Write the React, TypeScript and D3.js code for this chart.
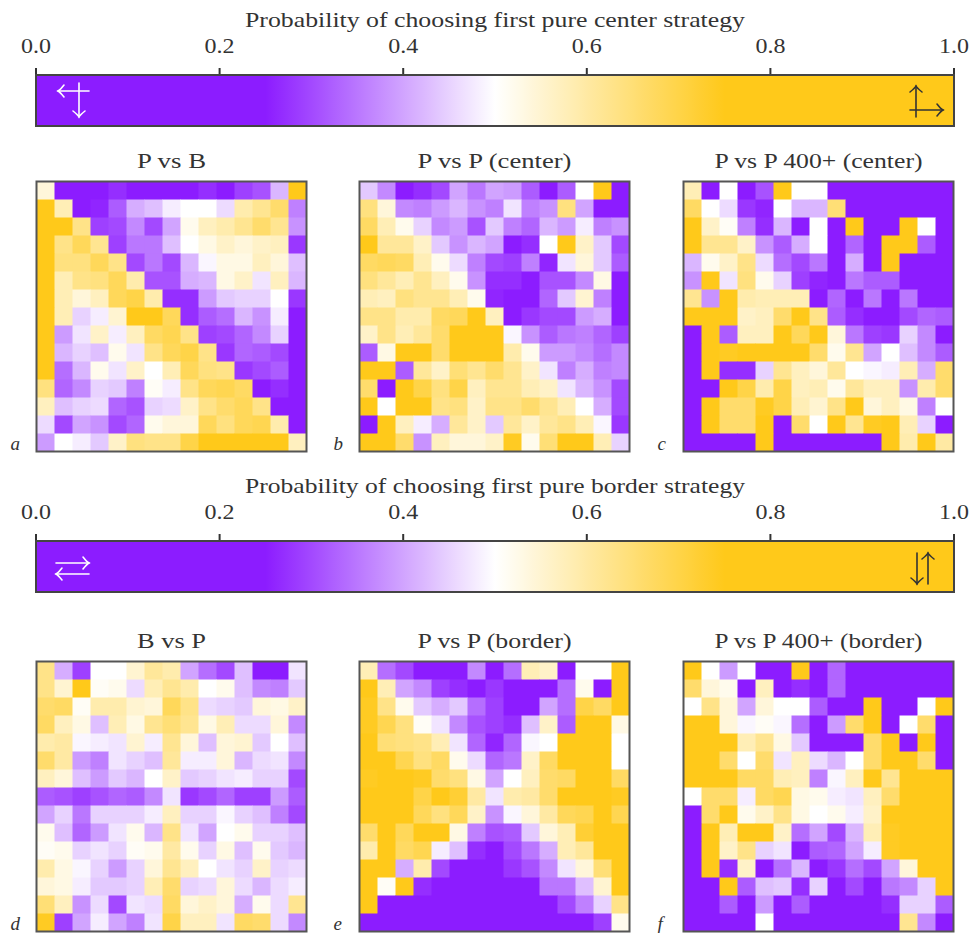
import React from "react";
import * as d3 from "d3";

// Probabilities of the first pure strategy, 15x15 grids (row 0 = top)
const pVsB = [
  [0.54, 0.15, 0.15, 0.15, 0.27, 0.15, 0.15, 0.15, 0.15, 0.27, 0.15, 0.29, 0.31, 0.42, 0.85],
  [0.85, 0.58, 0.15, 0.26, 0.32, 0.41, 0.43, 0.48, 0.5, 0.5, 0.46, 0.59, 0.62, 0.66, 0.36],
  [0.85, 0.85, 0.63, 0.29, 0.3, 0.37, 0.3, 0.4, 0.52, 0.57, 0.59, 0.62, 0.66, 0.62, 0.38],
  [0.85, 0.63, 0.68, 0.62, 0.29, 0.35, 0.35, 0.43, 0.5, 0.53, 0.56, 0.54, 0.56, 0.57, 0.28],
  [0.85, 0.64, 0.64, 0.68, 0.63, 0.3, 0.35, 0.3, 0.42, 0.49, 0.53, 0.53, 0.57, 0.54, 0.43],
  [0.85, 0.58, 0.63, 0.64, 0.68, 0.59, 0.31, 0.31, 0.41, 0.42, 0.53, 0.56, 0.47, 0.57, 0.42],
  [0.75, 0.58, 0.54, 0.57, 0.68, 0.7, 0.59, 0.27, 0.27, 0.39, 0.44, 0.45, 0.45, 0.5, 0.28],
  [0.85, 0.58, 0.45, 0.48, 0.55, 0.76, 0.78, 0.68, 0.27, 0.32, 0.34, 0.42, 0.38, 0.48, 0.25],
  [0.85, 0.39, 0.47, 0.56, 0.48, 0.57, 0.67, 0.69, 0.63, 0.29, 0.3, 0.33, 0.37, 0.45, 0.15],
  [0.85, 0.42, 0.45, 0.43, 0.52, 0.47, 0.63, 0.68, 0.7, 0.63, 0.28, 0.33, 0.32, 0.3, 0.15],
  [0.85, 0.34, 0.42, 0.52, 0.47, 0.56, 0.5, 0.58, 0.68, 0.64, 0.63, 0.28, 0.3, 0.32, 0.15],
  [0.64, 0.33, 0.37, 0.45, 0.44, 0.36, 0.51, 0.48, 0.63, 0.68, 0.69, 0.67, 0.25, 0.27, 0.15],
  [0.57, 0.43, 0.45, 0.46, 0.33, 0.31, 0.45, 0.46, 0.56, 0.63, 0.66, 0.68, 0.63, 0.15, 0.15],
  [0.46, 0.3, 0.4, 0.38, 0.3, 0.33, 0.52, 0.54, 0.54, 0.68, 0.64, 0.68, 0.69, 0.59, 0.15],
  [0.39, 0.5, 0.48, 0.44, 0.56, 0.64, 0.63, 0.63, 0.7, 0.76, 0.85, 0.85, 0.85, 0.76, 0.57],
];

const pVsPCenter = [
  [0.44, 0.37, 0.25, 0.27, 0.3, 0.4, 0.35, 0.4, 0.39, 0.32, 0.18, 0.32, 0.5, 0.85, 0.18],
  [0.64, 0.54, 0.37, 0.36, 0.39, 0.42, 0.38, 0.36, 0.47, 0.36, 0.38, 0.64, 0.4, 0.15, 0.15],
  [0.67, 0.58, 0.52, 0.45, 0.37, 0.39, 0.31, 0.44, 0.36, 0.33, 0.42, 0.39, 0.48, 0.36, 0.38],
  [0.75, 0.61, 0.61, 0.56, 0.44, 0.38, 0.42, 0.4, 0.25, 0.27, 0.5, 0.85, 0.56, 0.44, 0.3],
  [0.67, 0.68, 0.67, 0.58, 0.52, 0.46, 0.36, 0.3, 0.29, 0.36, 0.26, 0.47, 0.54, 0.44, 0.32],
  [0.64, 0.61, 0.58, 0.62, 0.57, 0.52, 0.38, 0.27, 0.27, 0.2, 0.31, 0.31, 0.37, 0.53, 0.15],
  [0.58, 0.57, 0.64, 0.62, 0.62, 0.58, 0.52, 0.26, 0.18, 0.22, 0.33, 0.44, 0.55, 0.36, 0.15],
  [0.63, 0.63, 0.59, 0.59, 0.67, 0.68, 0.76, 0.57, 0.22, 0.28, 0.3, 0.3, 0.39, 0.41, 0.22],
  [0.56, 0.63, 0.58, 0.61, 0.66, 0.85, 0.85, 0.85, 0.49, 0.38, 0.32, 0.35, 0.36, 0.33, 0.29],
  [0.32, 0.53, 0.85, 0.85, 0.66, 0.85, 0.85, 0.75, 0.59, 0.52, 0.39, 0.39, 0.37, 0.34, 0.37],
  [0.85, 0.85, 0.32, 0.61, 0.56, 0.65, 0.62, 0.66, 0.62, 0.56, 0.47, 0.36, 0.41, 0.36, 0.37],
  [0.66, 0.15, 0.85, 0.7, 0.64, 0.7, 0.57, 0.62, 0.62, 0.58, 0.56, 0.47, 0.42, 0.38, 0.3],
  [0.85, 0.5, 0.85, 0.85, 0.63, 0.64, 0.56, 0.63, 0.63, 0.66, 0.62, 0.58, 0.5, 0.41, 0.3],
  [0.18, 0.85, 0.57, 0.48, 0.41, 0.61, 0.56, 0.44, 0.61, 0.56, 0.61, 0.63, 0.58, 0.49, 0.28],
  [0.85, 0.85, 0.66, 0.38, 0.57, 0.54, 0.54, 0.56, 0.74, 0.52, 0.65, 0.75, 0.75, 0.58, 0.45],
];

const pVsP400Center = [
  [0.58, 0.15, 0.5, 0.15, 0.31, 0.85, 0.5, 0.5, 0.15, 0.15, 0.15, 0.15, 0.15, 0.15, 0.15],
  [0.67, 0.5, 0.46, 0.28, 0.26, 0.5, 0.42, 0.42, 0.65, 0.15, 0.15, 0.15, 0.15, 0.15, 0.15],
  [0.85, 0.56, 0.51, 0.36, 0.27, 0.42, 0.15, 0.5, 0.15, 0.85, 0.15, 0.15, 0.85, 0.5, 0.15],
  [0.85, 0.62, 0.62, 0.56, 0.38, 0.32, 0.41, 0.5, 0.15, 0.33, 0.15, 0.85, 0.85, 0.32, 0.15],
  [0.42, 0.52, 0.56, 0.63, 0.46, 0.34, 0.3, 0.35, 0.15, 0.41, 0.15, 0.85, 0.15, 0.15, 0.15],
  [0.38, 0.85, 0.47, 0.64, 0.52, 0.45, 0.29, 0.26, 0.15, 0.35, 0.32, 0.32, 0.15, 0.15, 0.15],
  [0.62, 0.38, 0.85, 0.59, 0.58, 0.58, 0.58, 0.15, 0.33, 0.15, 0.35, 0.15, 0.35, 0.15, 0.15],
  [0.85, 0.85, 0.85, 0.56, 0.57, 0.66, 0.85, 0.63, 0.32, 0.27, 0.15, 0.15, 0.3, 0.33, 0.32],
  [0.15, 0.85, 0.32, 0.57, 0.57, 0.85, 0.68, 0.85, 0.54, 0.35, 0.29, 0.28, 0.45, 0.37, 0.15],
  [0.15, 0.85, 0.74, 0.85, 0.76, 0.85, 0.76, 0.66, 0.52, 0.62, 0.4, 0.5, 0.43, 0.37, 0.32],
  [0.15, 0.85, 0.27, 0.27, 0.45, 0.62, 0.57, 0.54, 0.61, 0.5, 0.49, 0.48, 0.58, 0.41, 0.66],
  [0.15, 0.15, 0.85, 0.7, 0.59, 0.7, 0.57, 0.58, 0.52, 0.61, 0.57, 0.57, 0.38, 0.59, 0.66],
  [0.15, 0.85, 0.66, 0.66, 0.74, 0.7, 0.58, 0.55, 0.63, 0.85, 0.54, 0.57, 0.53, 0.36, 0.5],
  [0.15, 0.85, 0.66, 0.66, 0.85, 0.15, 0.66, 0.5, 0.85, 0.62, 0.74, 0.85, 0.58, 0.45, 0.15],
  [0.15, 0.15, 0.15, 0.15, 0.85, 0.15, 0.15, 0.15, 0.15, 0.15, 0.15, 0.85, 0.59, 0.85, 0.6],
];

const bVsP = [
  [0.63, 0.41, 0.29, 0.5, 0.5, 0.55, 0.61, 0.59, 0.4, 0.34, 0.3, 0.43, 0.15, 0.15, 0.47],
  [0.63, 0.55, 0.85, 0.51, 0.52, 0.46, 0.58, 0.62, 0.59, 0.5, 0.52, 0.43, 0.37, 0.36, 0.44],
  [0.66, 0.67, 0.51, 0.59, 0.59, 0.55, 0.54, 0.68, 0.63, 0.46, 0.45, 0.44, 0.54, 0.53, 0.56],
  [0.67, 0.57, 0.53, 0.43, 0.58, 0.53, 0.62, 0.65, 0.62, 0.53, 0.58, 0.46, 0.46, 0.54, 0.37],
  [0.59, 0.6, 0.49, 0.48, 0.47, 0.55, 0.48, 0.62, 0.54, 0.43, 0.54, 0.55, 0.44, 0.5, 0.43],
  [0.66, 0.6, 0.39, 0.36, 0.47, 0.45, 0.43, 0.61, 0.48, 0.48, 0.54, 0.42, 0.46, 0.47, 0.37],
  [0.57, 0.54, 0.43, 0.39, 0.44, 0.42, 0.5, 0.56, 0.44, 0.45, 0.47, 0.48, 0.45, 0.45, 0.3],
  [0.32, 0.31, 0.29, 0.31, 0.33, 0.32, 0.37, 0.47, 0.28, 0.3, 0.33, 0.29, 0.29, 0.39, 0.32],
  [0.4, 0.45, 0.35, 0.45, 0.45, 0.45, 0.48, 0.57, 0.45, 0.45, 0.49, 0.45, 0.43, 0.36, 0.3],
  [0.52, 0.43, 0.33, 0.39, 0.47, 0.52, 0.42, 0.63, 0.47, 0.4, 0.5, 0.52, 0.45, 0.45, 0.43],
  [0.51, 0.52, 0.45, 0.47, 0.45, 0.51, 0.52, 0.6, 0.52, 0.45, 0.53, 0.43, 0.52, 0.44, 0.42],
  [0.59, 0.53, 0.49, 0.45, 0.39, 0.45, 0.54, 0.62, 0.57, 0.5, 0.47, 0.45, 0.56, 0.45, 0.46],
  [0.54, 0.53, 0.48, 0.44, 0.44, 0.45, 0.58, 0.66, 0.45, 0.46, 0.54, 0.46, 0.42, 0.46, 0.48],
  [0.65, 0.57, 0.38, 0.46, 0.3, 0.47, 0.46, 0.67, 0.54, 0.56, 0.54, 0.41, 0.52, 0.46, 0.62],
  [0.74, 0.29, 0.4, 0.48, 0.4, 0.36, 0.47, 0.7, 0.57, 0.57, 0.47, 0.67, 0.66, 0.46, 0.37],
];

const pVsPBorder = [
  [0.58, 0.34, 0.3, 0.15, 0.15, 0.15, 0.37, 0.2, 0.34, 0.58, 0.56, 0.15, 0.5, 0.5, 0.85],
  [0.85, 0.58, 0.4, 0.37, 0.29, 0.27, 0.2, 0.28, 0.15, 0.15, 0.15, 0.34, 0.52, 0.15, 0.85],
  [0.74, 0.63, 0.52, 0.44, 0.41, 0.44, 0.34, 0.29, 0.15, 0.15, 0.4, 0.34, 0.7, 0.67, 0.85],
  [0.74, 0.69, 0.64, 0.51, 0.47, 0.37, 0.31, 0.29, 0.27, 0.43, 0.56, 0.32, 0.85, 0.85, 0.53],
  [0.85, 0.65, 0.64, 0.63, 0.58, 0.47, 0.33, 0.26, 0.33, 0.49, 0.5, 0.75, 0.85, 0.85, 0.5],
  [0.85, 0.85, 0.69, 0.64, 0.67, 0.52, 0.46, 0.33, 0.35, 0.56, 0.67, 0.85, 0.85, 0.85, 0.5],
  [0.74, 0.75, 0.85, 0.74, 0.66, 0.64, 0.53, 0.4, 0.5, 0.57, 0.66, 0.67, 0.85, 0.85, 0.67],
  [0.85, 0.85, 0.85, 0.7, 0.75, 0.72, 0.6, 0.47, 0.59, 0.6, 0.66, 0.85, 0.85, 0.85, 0.74],
  [0.85, 0.85, 0.85, 0.68, 0.64, 0.68, 0.56, 0.38, 0.49, 0.54, 0.6, 0.68, 0.69, 0.85, 0.69],
  [0.66, 0.85, 0.68, 0.85, 0.85, 0.53, 0.36, 0.31, 0.32, 0.44, 0.54, 0.58, 0.72, 0.85, 0.85],
  [0.59, 0.85, 0.67, 0.69, 0.48, 0.43, 0.27, 0.15, 0.3, 0.35, 0.41, 0.58, 0.61, 0.85, 0.85],
  [0.85, 0.85, 0.41, 0.59, 0.3, 0.15, 0.15, 0.15, 0.28, 0.31, 0.37, 0.47, 0.54, 0.65, 0.85],
  [0.85, 0.51, 0.85, 0.27, 0.15, 0.15, 0.15, 0.15, 0.15, 0.24, 0.35, 0.35, 0.43, 0.55, 0.85],
  [0.85, 0.15, 0.15, 0.15, 0.15, 0.15, 0.15, 0.15, 0.15, 0.15, 0.15, 0.3, 0.36, 0.45, 0.63],
  [0.15, 0.15, 0.15, 0.15, 0.15, 0.15, 0.15, 0.15, 0.15, 0.15, 0.15, 0.15, 0.15, 0.29, 0.52],
];

const pVsP400Border = [
  [0.85, 0.5, 0.39, 0.5, 0.15, 0.15, 0.85, 0.15, 0.33, 0.15, 0.15, 0.15, 0.15, 0.15, 0.15],
  [0.66, 0.54, 0.52, 0.15, 0.57, 0.15, 0.27, 0.15, 0.33, 0.15, 0.15, 0.15, 0.15, 0.15, 0.15],
  [0.5, 0.63, 0.54, 0.4, 0.54, 0.5, 0.5, 0.32, 0.15, 0.15, 0.85, 0.15, 0.15, 0.5, 0.85],
  [0.85, 0.85, 0.54, 0.49, 0.51, 0.49, 0.34, 0.15, 0.39, 0.66, 0.85, 0.15, 0.5, 0.66, 0.15],
  [0.85, 0.85, 0.85, 0.58, 0.62, 0.53, 0.44, 0.15, 0.23, 0.15, 0.66, 0.85, 0.15, 0.85, 0.15],
  [0.85, 0.85, 0.66, 0.5, 0.66, 0.47, 0.57, 0.46, 0.42, 0.5, 0.66, 0.85, 0.85, 0.66, 0.15],
  [0.85, 0.85, 0.85, 0.67, 0.67, 0.58, 0.57, 0.36, 0.49, 0.57, 0.85, 0.62, 0.85, 0.85, 0.85],
  [0.5, 0.66, 0.66, 0.48, 0.67, 0.69, 0.53, 0.52, 0.48, 0.47, 0.57, 0.66, 0.85, 0.85, 0.85],
  [0.15, 0.66, 0.85, 0.52, 0.56, 0.63, 0.53, 0.5, 0.52, 0.48, 0.56, 0.85, 0.85, 0.85, 0.85],
  [0.15, 0.85, 0.58, 0.85, 0.85, 0.56, 0.34, 0.4, 0.3, 0.42, 0.58, 0.74, 0.85, 0.85, 0.85],
  [0.15, 0.85, 0.56, 0.63, 0.45, 0.47, 0.15, 0.32, 0.33, 0.4, 0.48, 0.74, 0.85, 0.85, 0.85],
  [0.15, 0.85, 0.27, 0.56, 0.15, 0.34, 0.42, 0.15, 0.28, 0.34, 0.3, 0.4, 0.54, 0.85, 0.85],
  [0.15, 0.15, 0.85, 0.32, 0.43, 0.44, 0.27, 0.45, 0.15, 0.3, 0.15, 0.35, 0.37, 0.45, 0.85],
  [0.15, 0.15, 0.32, 0.15, 0.39, 0.15, 0.32, 0.15, 0.15, 0.15, 0.15, 0.27, 0.45, 0.45, 0.32],
  [0.15, 0.15, 0.15, 0.15, 0.5, 0.15, 0.15, 0.15, 0.15, 0.15, 0.15, 0.15, 0.62, 0.37, 0.15],
];

const topTitles = ["P vs B", "P vs P (center)", "P vs P 400+ (center)"];
const bottomTitles = ["B vs P", "P vs P (border)", "P vs P 400+ (border)"];
const topLetters = ["a", "b", "c"];
const bottomLetters = ["d", "e", "f"];
const cbTicks = [0, 0.2, 0.4, 0.6, 0.8, 1.0];
const cbTitles = [
  "Probability of choosing first pure center strategy",
  "Probability of choosing first pure border strategy",
];

const PURPLE = "#8c1cff";
const GOLD = "#ffc91a";
const INK = "#333333";
const FONT = "Liberation Serif, DejaVu Serif, serif";

// widths of the Computer Modern titles in the original, the Times-like font is stretched to them
const titleWidths = [69, 154, 208];

const color = d3
  .scaleLinear<string>()
  .domain([0.25, 0.5, 0.75])
  .range([PURPLE, "#ffffff", GOLD])
  .interpolate(d3.interpolateRgb)
  .clamp(true);

const N = 15;
const SIZE = 270;
const colX = [36.5, 359.5, 683.5];

function Heatmap({ data, x0, y0, title, letter, tw }: any) {
  const xs = d3.scaleBand<number>().domain(d3.range(N)).range([0, SIZE]);
  const ys = d3.scaleBand<number>().domain(d3.range(N)).range([0, SIZE]);
  return (
    <g transform={`translate(${x0},${y0})`}>
      {data.map((row: number[], r: number) =>
        row.map((v, c) => (
          <rect
            key={`${r}-${c}`}
            x={xs(c)}
            y={ys(r)}
            width={xs.bandwidth() + 0.5}
            height={ys.bandwidth() + 0.5}
            fill={color(v)}
          />
        ))
      )}
      <rect x={0} y={0} width={SIZE} height={SIZE} fill="none" stroke="#555" strokeWidth={2} />
      <text
        x={SIZE / 2}
        y={-14}
        textAnchor="middle"
        fontSize={22}
        fill={INK}
        fontFamily={FONT}
        textLength={tw}
        lengthAdjust="spacingAndGlyphs"
      >
        {title}
      </text>
      <text x={-26} y={SIZE - 2} fontSize={19} fontStyle="italic" fill={INK} fontFamily={FONT}>
        {letter}
      </text>
    </g>
  );
}

// LaTeX-ish arrow heads
function head(x: number, y: number, dir: string) {
  const s = 6;
  if (dir === "left") return `M${x + s},${y - s} Q${x + 2},${y - 1} ${x},${y} Q${x + 2},${y + 1} ${x + s},${y + s}`;
  if (dir === "right") return `M${x - s},${y - s} Q${x - 2},${y - 1} ${x},${y} Q${x - 2},${y + 1} ${x - s},${y + s}`;
  if (dir === "up") return `M${x - s},${y + s} Q${x - 1},${y + 2} ${x},${y} Q${x + 1},${y + 2} ${x + s},${y + s}`;
  return `M${x - s},${y - s} Q${x - 1},${y - 2} ${x},${y} Q${x + 1},${y - 2} ${x + s},${y - s}`;
}

function Colorbar({ y0, title, id, glyphs }: any) {
  const x = d3.scaleLinear().domain([0, 1]).range([36, 954]);
  const stops = d3.range(0, 1.0001, 0.01);
  const h = 51;
  return (
    <g>
      <defs>
        <linearGradient id={id} x1="0" x2="1" y1="0" y2="0">
          {stops.map((s) => (
            <stop key={s} offset={s} stopColor={color(s)} />
          ))}
        </linearGradient>
      </defs>
      <text
        x={(x(0) + x(1)) / 2}
        y={y0 - 48}
        textAnchor="middle"
        fontSize={22}
        fill={INK}
        fontFamily={FONT}
        textLength={500}
        lengthAdjust="spacingAndGlyphs"
      >
        {title}
      </text>
      {cbTicks.map((t) => (
        <g key={t}>
          <line x1={x(t)} x2={x(t)} y1={y0 - 7} y2={y0} stroke={INK} strokeWidth={2} />
          <text
            x={x(t)}
            y={y0 - 22}
            textAnchor="middle"
            fontSize={22}
            fill={INK}
            fontFamily={FONT}
            textLength={30}
            lengthAdjust="spacingAndGlyphs"
          >
            {t.toFixed(1)}
          </text>
        </g>
      ))}
      <rect x={x(0)} y={y0} width={x(1) - x(0)} height={h} fill={`url(#${id})`} stroke="#444" strokeWidth={2} />
      {glyphs}
    </g>
  );
}

function Glyph({ lines, heads, stroke }: any) {
  return (
    <g fill="none" stroke={stroke} strokeWidth={1.6} strokeLinecap="round">
      {lines.map((l: number[], i: number) => (
        <line key={i} x1={l[0]} y1={l[1]} x2={l[2]} y2={l[3]} />
      ))}
      {heads.map((hd: any[], i: number) => (
        <path key={"h" + i} d={head(hd[0], hd[1], hd[2])} />
      ))}
    </g>
  );
}

export default function App() {
  const topBar = 75;
  const botBar = 541;
  return (
    <svg
      width={970}
      height={933}
      style={{ position: "absolute", left: 0, top: 0, background: "#fff" }}
    >
      <Colorbar
        y0={topBar}
        id="cb1"
        title={cbTitles[0]}
        glyphs={
          <>
            <Glyph stroke="#fff" lines={[[58, 91, 89, 91], [79, 83, 79, 117]]} heads={[[58, 91, "left"], [79, 117, "down"]]} />
            <Glyph stroke={INK} lines={[[916, 86, 916, 117], [910, 110, 943, 110]]} heads={[[916, 86, "up"], [943, 110, "right"]]} />
          </>
        }
      />
      <Colorbar
        y0={botBar}
        id="cb2"
        title={cbTitles[1]}
        glyphs={
          <>
            <Glyph stroke="#fff" lines={[[56, 563, 89, 563], [56, 574, 89, 574]]} heads={[[89, 563, "right"], [56, 574, "left"]]} />
            <Glyph stroke={INK} lines={[[917, 553, 917, 584], [928, 553, 928, 584]]} heads={[[917, 584, "down"], [928, 553, "up"]]} />
          </>
        }
      />
      {[pVsB, pVsPCenter, pVsP400Center].map((d, i) => (
        <Heatmap key={"t" + i} data={d} x0={colX[i]} y0={181.5} title={topTitles[i]} letter={topLetters[i]} tw={titleWidths[i]} />
      ))}
      {[bVsP, pVsPBorder, pVsP400Border].map((d, i) => (
        <Heatmap key={"b" + i} data={d} x0={colX[i]} y0={661.5} title={bottomTitles[i]} letter={bottomLetters[i]} tw={titleWidths[i]} />
      ))}
    </svg>
  );
}
